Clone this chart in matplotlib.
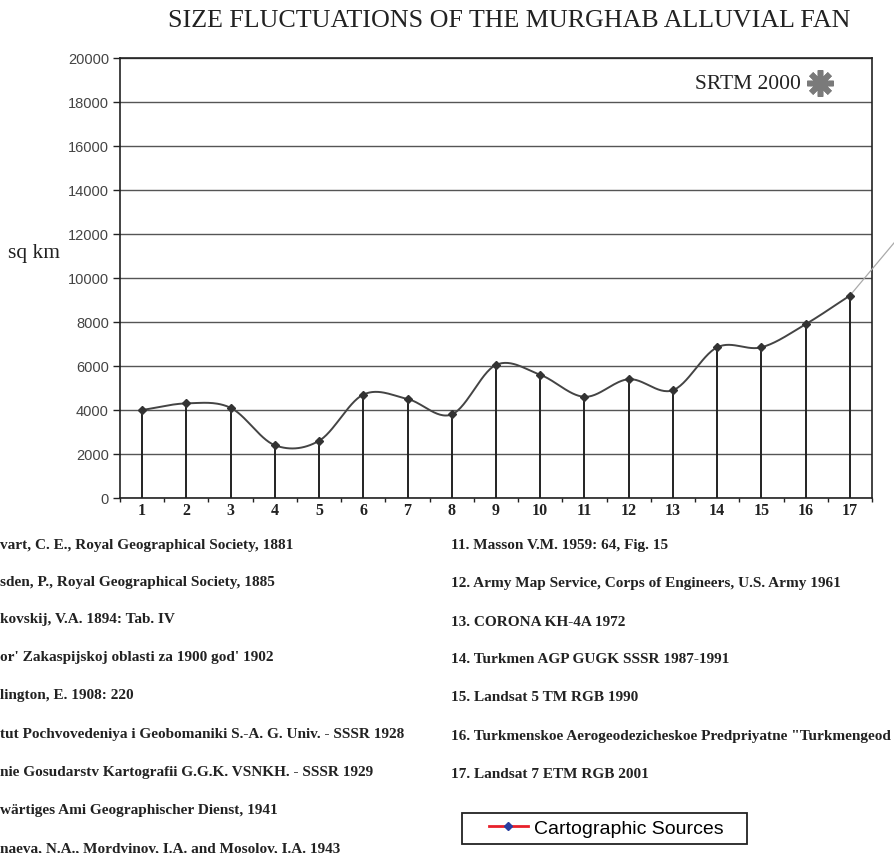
import numpy as np
import matplotlib
matplotlib.use("Agg")
import matplotlib.pyplot as plt
from matplotlib.lines import Line2D
from matplotlib.patches import Rectangle

# ---- data ----
categories = list(range(1, 18))
area_sqkm = [4000, 4300, 4100, 2400, 2600, 4700, 4500, 3800, 6050,
             5600, 4600, 5400, 4900, 6850, 6850, 7900, 9200]
srtm_trend_end = [18, 11600]          # direction of the thin line towards SRTM 2000
y_ticks = list(range(0, 20001, 2000))
title = "SIZE FLUCTUATIONS OF THE MURGHAB ALLUVIAL FAN"
sources_left = [
    "vart, C. E., Royal Geographical Society, 1881",
    "sden, P., Royal Geographical Society, 1885",
    "kovskij, V.A. 1894: Tab. IV",
    "or' Zakaspijskoj oblasti za 1900 god' 1902",
    "lington, E. 1908: 220",
    "tut Pochvovedeniya i Geobomaniki S.-A. G. Univ. - SSSR 1928",
    "nie Gosudarstv Kartografii G.G.K. VSNKH. - SSSR 1929",
    "wärtiges Ami Geographischer Dienst, 1941",
    "naeva, N.A., Mordvinov, I.A. and Mosolov, I.A. 1943",
]
sources_right = [
    "11. Masson V.M. 1959: 64, Fig. 15",
    "12. Army Map Service, Corps of Engineers, U.S. Army 1961",
    "13. CORONA KH-4A 1972",
    "14. Turkmen AGP GUGK SSSR 1987-1991",
    "15. Landsat 5 TM RGB 1990",
    '16. Turkmenskoe Aerogeodezicheskoe Predpriyatne "Turkmengeod',
    "17. Landsat 7 ETM RGB 2001",
]
legend_label = "Cartographic Sources"


def catmull_rom(x, y, n=30):
    x = np.asarray(x, float); y = np.asarray(y, float)
    px = np.concatenate([[2 * x[0] - x[1]], x, [2 * x[-1] - x[-2]]])
    py = np.concatenate([[2 * y[0] - y[1]], y, [2 * y[-1] - y[-2]]])
    xs, ys = [], []
    for i in range(1, len(px) - 2):
        t = np.linspace(0, 1, n, endpoint=False)
        for p, out in ((px, xs), (py, ys)):
            p0, p1, p2, p3 = p[i - 1], p[i], p[i + 1], p[i + 2]
            out.extend(0.5 * ((2 * p1) + (-p0 + p2) * t +
                              (2 * p0 - 5 * p1 + 4 * p2 - p3) * t ** 2 +
                              (-p0 + 3 * p1 - 3 * p2 + p3) * t ** 3))
    xs.append(x[-1]); ys.append(y[-1])
    return np.array(xs), np.array(ys)


W, H = 894, 854
fig = plt.figure(figsize=(W / 100, H / 100), dpi=100)
serif = "Liberation Serif"
sans = "Liberation Sans"

ax = fig.add_axes([120 / W, 1 - 499 / H, (872 - 120) / W, (499 - 59) / H])
ax.set_xlim(0.5, 17.5)
ax.set_ylim(0, 20000)

for v in y_ticks:
    ax.axhline(v, color="#555555", lw=1.0, zorder=1)

sx, sy = catmull_rom(categories, area_sqkm)
ax.plot(sx, sy, color="#444444", lw=1.4, zorder=3)
ax.vlines(categories, 0, area_sqkm, color="#222222", lw=1.4, zorder=2)
ax.plot(categories, area_sqkm, linestyle="none", marker="D", ms=4,
        color="#333333", zorder=4)
ax.plot([categories[-1], srtm_trend_end[0]], [area_sqkm[-1], srtm_trend_end[1]],
        color="#aaaaaa", lw=0.9, clip_on=False, zorder=3)

for s in ax.spines.values():
    s.set_color("#222222")
    s.set_linewidth(1.2)

ax.set_yticks(y_ticks)
ax.set_yticklabels([str(v) for v in y_ticks], fontfamily=sans, fontsize=10.5,
                   color="#444444")
ax.tick_params(axis="y", direction="out", length=5, width=1, color="#222222", pad=3)
ax.set_xticks(categories)
ax.set_xticklabels([str(c) for c in categories], fontfamily=serif, fontsize=11.5,
                   fontweight="bold", color="#222222")
ax.set_xticks(np.arange(0.5, 17.6, 1), minor=True)
ax.tick_params(axis="x", which="major", length=0, pad=3)
ax.tick_params(axis="x", which="minor", direction="out", length=3, width=1,
               color="#222222")

ax.text(0.905, 0.943, "SRTM 2000", transform=ax.transAxes, ha="right",
        va="center", fontfamily=serif, fontsize=15.5, color="#222222")
ax.plot([0.931], [0.943], transform=ax.transAxes, marker=(8, 2, 0), ms=19,
        mew=4, color="#7a7a7a", linestyle="none", clip_on=False)

fig.text(509 / W, 1 - 27 / H, title, ha="center", va="baseline",
         fontfamily=serif, fontsize=18.7, color="#222222")
fig.text(8 / W, 1 - 258 / H, "sq km", ha="left", va="baseline",
         fontfamily=serif, fontsize=15.5, color="#222222")

left_y = [546, 583, 620, 658, 696, 735, 773, 811, 849]
for yy, t in zip(left_y, sources_left):
    fig.text(0, 1 - yy / H, t, ha="left", va="center", fontfamily=serif,
             fontsize=11, fontweight="bold", color="#222222")
right_y = [546, 584, 622, 660, 698, 737, 775]
for yy, t in zip(right_y, sources_right):
    fig.text(451 / W, 1 - yy / H, t, ha="left", va="center", fontfamily=serif,
             fontsize=11, fontweight="bold", color="#222222")

# legend box
fig.patches.append(Rectangle((462 / W, 1 - 845 / H), (747 - 462) / W, 31 / H,
                             transform=fig.transFigure, fill=True,
                             facecolor="white", edgecolor="#222222", lw=1.3))
handle = Line2D([], [], color="#e8202a", lw=2, marker="D", ms=4,
                mfc="#2a3ea0", mec="#2a3ea0")
leg = fig.legend([handle], [legend_label], loc="center",
                 bbox_to_anchor=(606 / W, 1 - 829 / H), frameon=False,
                 handlelength=2.0, prop={"family": sans, "size": 14},
                 borderpad=0.0, handletextpad=0.3)

fig.savefig("out.png", dpi=100)
